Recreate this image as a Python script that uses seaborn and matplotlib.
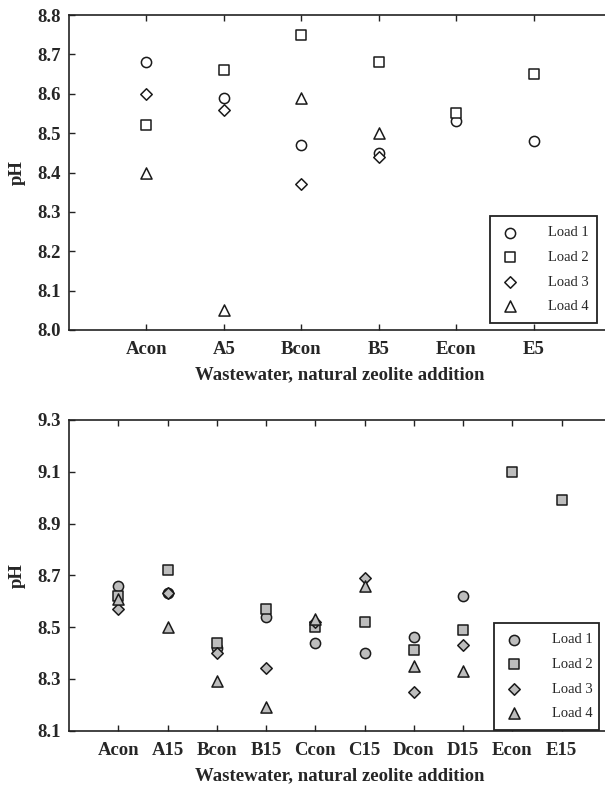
import numpy as np
import pandas as pd
import matplotlib
matplotlib.use("Agg")
import matplotlib.pyplot as plt
import seaborn as sns

nan = np.nan
loads = ["Load 1", "Load 2", "Load 3", "Load 4"]

top_cats = ["Acon", "A5", "Bcon", "B5", "Econ", "E5"]
top_load1 = [8.68, 8.59, 8.47, 8.45, 8.53, 8.48]
top_load2 = [8.52, 8.66, 8.75, 8.68, 8.55, 8.65]
top_load3 = [8.60, 8.56, 8.37, 8.44, nan, nan]
top_load4 = [8.40, 8.05, 8.59, 8.50, nan, nan]

bot_cats = ["Acon", "A15", "Bcon", "B15", "Ccon", "C15", "Dcon", "D15", "Econ", "E15"]
bot_load1 = [8.66, 8.63, 8.42, 8.54, 8.44, 8.40, 8.46, 8.62, nan, nan]
bot_load2 = [8.62, 8.72, 8.44, 8.57, 8.50, 8.52, 8.41, 8.49, 9.10, 8.99]
bot_load3 = [8.57, 8.63, 8.40, 8.34, 8.52, 8.69, 8.25, 8.43, nan, nan]
bot_load4 = [8.61, 8.50, 8.29, 8.19, 8.53, 8.66, 8.35, 8.33, nan, nan]

top_yticks = [8.0, 8.1, 8.2, 8.3, 8.4, 8.5, 8.6, 8.7, 8.8]
bot_yticks = [8.1, 8.3, 8.5, 8.7, 8.9, 9.1, 9.3]
xlabel = "Wastewater, natural zeolite addition"
ylabel = "pH"


def long_df(cats, series):
    rows = []
    for ci, c in enumerate(cats):
        for lname, vals in zip(loads, series):
            rows.append({"cat": c, "pH": vals[ci], "Load": lname})
    df = pd.DataFrame(rows)
    df["cat"] = pd.Categorical(df["cat"], categories=cats, ordered=True)
    return df


df_top = long_df(top_cats, [top_load1, top_load2, top_load3, top_load4])
df_bot = long_df(bot_cats, [bot_load1, bot_load2, bot_load3, bot_load4])

sns.set_theme(style="white")
plt.rcParams["font.family"] = ["Liberation Serif", "DejaVu Serif"]

fig = plt.figure(figsize=(6.05, 7.87), dpi=100)
W, H = 605, 787


def axes_px(l, t, r, b):
    return fig.add_axes([l / W, 1 - b / H, (r - l) / W, (b - t) / H])


ax1 = axes_px(69, 15, 611, 330)
ax2 = axes_px(69, 420, 611, 730.5)

markers = {"Load 1": "o", "Load 2": "s", "Load 3": "D", "Load 4": "^"}
sizes = {"Load 1": 54, "Load 2": 52, "Load 3": 34, "Load 4": 64}


def draw(ax, df, cats, face, yticks, ylim, legend_box):
    d = df.dropna(subset=["pH"]).copy()
    d["x"] = d["cat"].cat.codes
    for i, ld in enumerate(loads):
        sub = d[d["Load"] == ld]
        sns.scatterplot(data=sub, x="x", y="pH", marker=markers[ld],
                        color=face, edgecolor="#1a1a1a", linewidth=1.1,
                        s=sizes[ld], ax=ax, label=ld, zorder=3 + i,
                        legend=False)
    ax.set_xlim(-1, len(cats))
    ax.set_ylim(*ylim)
    ax.set_xticks(range(len(cats)))
    ax.set_xticklabels(cats)
    ax.set_yticks(yticks)
    ax.set_yticklabels([f"{v:.1f}" for v in yticks])
    for lab in ax.get_xticklabels() + ax.get_yticklabels():
        lab.set_fontweight("bold")
        lab.set_fontsize(13.5)
    ax.tick_params(direction="in", length=4, width=1.0, color="#222222",
                   top=True, right=True, bottom=True, left=True, pad=6)
    ax.tick_params(axis="x", pad=8)
    for sp in ax.spines.values():
        sp.set_color("#222222")
        sp.set_linewidth(1.2)
        sp.set_visible(True)
    ax.set_xlabel(xlabel, fontsize=13.5, fontweight="bold", labelpad=6)
    ax.set_ylabel(ylabel, fontsize=13.5, fontweight="bold", labelpad=8)
    handles, labels = ax.get_legend_handles_labels()
    hl = [(h, l) for h, l in zip(handles, labels) if l in loads]
    l, t, r, b = legend_box
    leg = ax.legend([h for h, _ in hl], [l_ for _, l_ in hl],
                    loc="upper left",
                    bbox_to_anchor=(l / W, 1 - b / H, (r - l) / W, (b - t) / H),
                    bbox_transform=fig.transFigure, mode="expand",
                    fontsize=10.5, frameon=True, fancybox=False,
                    borderaxespad=0, borderpad=0.7, labelspacing=0.78,
                    handletextpad=1.9, handlelength=1.4, scatterpoints=1)
    fr = leg.get_frame()
    fr.set_edgecolor("#222222")
    fr.set_linewidth(1.3)
    fr.set_facecolor("white")
    fr.set_alpha(1)


draw(ax1, df_top, top_cats, "white", top_yticks, (8.0, 8.8), (490, 216, 597, 322))
draw(ax2, df_bot, bot_cats, "#bdbdbd", bot_yticks, (8.1, 9.3), (494, 623, 599, 724))

fig.savefig("out.png", dpi=100)
